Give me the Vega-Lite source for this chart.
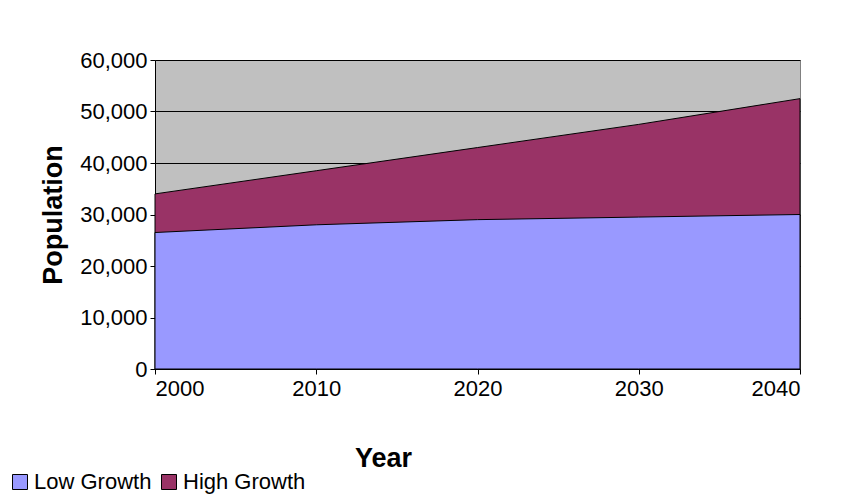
{
  "$schema": "https://vega.github.io/schema/vega-lite/v6.json",
  "width": 645,
  "height": 309,
  "autosize": {"type": "none"},
  "padding": {"left": 155, "top": 60, "right": 60, "bottom": 127},
  "background": "white",
  "config": {
    "font": "Liberation Sans",
    "view": {"fill": "#C0C0C0", "stroke": "#808080"}
  },
  "data": {
    "values": [
      {"Year": 2000, "Series": "Low Growth", "Population": 26500},
      {"Year": 2010, "Series": "Low Growth", "Population": 28000},
      {"Year": 2020, "Series": "Low Growth", "Population": 29000},
      {"Year": 2030, "Series": "Low Growth", "Population": 29500},
      {"Year": 2040, "Series": "Low Growth", "Population": 30000},
      {"Year": 2000, "Series": "High Growth", "Population": 34000},
      {"Year": 2010, "Series": "High Growth", "Population": 38500},
      {"Year": 2020, "Series": "High Growth", "Population": 43000},
      {"Year": 2030, "Series": "High Growth", "Population": 47500},
      {"Year": 2040, "Series": "High Growth", "Population": 52500}
    ]
  },
  "encoding": {
    "x": {
      "field": "Year", "type": "quantitative",
      "scale": {"domain": [2000, 2040], "nice": false, "zero": false},
      "axis": {
        "values": [2000, 2010, 2020, 2030, 2040], "format": "d",
        "title": "Year", "titleFontSize": 27, "titleFontWeight": "bold", "titleColor": "black",
        "titleX": 228, "titleY": 76,
        "labelFontSize": 22, "labelColor": "black", "labelPadding": 4, "labelBaseline": "top",
        "domainColor": "black", "tickColor": "black", "grid": false,
        "encode": {"labels": {"update": {"y": {"signal": "12 + (datum.value - 2000) * 2.1"}}}}
      }
    },
    "y": {
      "field": "Population", "type": "quantitative", "stack": null,
      "scale": {"domain": [0, 60000], "nice": false},
      "axis": {
        "values": [0, 10000, 20000, 30000, 40000, 50000, 60000], "format": ",d",
        "title": "Population", "titleFontSize": 27, "titleFontWeight": "bold", "titleColor": "black",
        "labelFontSize": 22, "labelColor": "black", "titlePadding": 12, "labelPadding": 3,
        "domainColor": "black", "tickColor": "black",
        "grid": true, "gridColor": "black", "gridWidth": 1
      }
    },
    "color": {
      "field": "Series", "type": "nominal",
      "scale": {"domain": ["Low Growth", "High Growth"], "range": ["#9999FF", "#993366"]},
      "legend": {
        "title": null, "orient": "none", "legendX": -146, "legendY": 411,
        "direction": "horizontal", "symbolType": "square", "symbolSize": 225,
        "symbolStrokeColor": "black", "symbolStrokeWidth": 1, "symbolOpacity": 1,
        "labelFontSize": 22, "labelColor": "black", "columnPadding": 6, "labelOffset": 3
      }
    }
  },
  "layer": [
    {
      "transform": [{"filter": "datum.Series === 'High Growth'"}],
      "mark": {"type": "area", "stroke": "black", "strokeWidth": 1, "opacity": 1}
    },
    {
      "transform": [{"filter": "datum.Series === 'Low Growth'"}],
      "mark": {"type": "area", "stroke": "black", "strokeWidth": 1, "opacity": 1}
    }
  ]
}
